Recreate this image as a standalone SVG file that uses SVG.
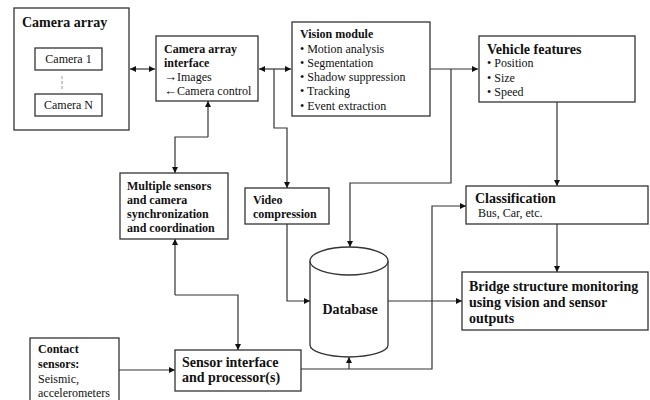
<svg xmlns="http://www.w3.org/2000/svg" width="650" height="400" viewBox="0 0 650 400" font-family="'Liberation Serif', 'Times New Roman', Times, serif">
<defs>
<marker id="ah" viewBox="0 0 10 10" refX="10" refY="5" markerWidth="6" markerHeight="6" markerUnits="userSpaceOnUse" orient="auto-start-reverse">
<path d="M0,0 L10,5 L0,10 z" fill="#111"/>
</marker>
<style>
.box{fill:#fff;stroke:#333;stroke-width:1.3}
.ar{fill:none;stroke:#333;stroke-width:1.2;marker-end:url(#ah)}
.bi{fill:none;stroke:#333;stroke-width:1.2;marker-end:url(#ah);marker-start:url(#ah)}
text{font-family:'Liberation Serif','Times New Roman',Times,serif;fill:#111;font-size:12px}
.b{font-weight:bold}
.t14{font-size:14px}
.arw{font-size:13px;font-weight:bold}
</style>
</defs>
<rect width="650" height="400" fill="#fff"/>

<g id="connectors">
<path class="bi" d="M130,69 H155"/>
<path class="bi" d="M259,69 H291"/>
<path class="ar" d="M430,69 H478"/>
<path class="ar" d="M274,69 V128 H287 V188"/>
<path class="ar" d="M208,137 V101"/>
<path class="ar" d="M208,137 H175 V173"/>
<path class="ar" d="M175,295 V239"/>
<path class="ar" d="M175,295 H238 V350"/>
<path class="ar" d="M451,69 V183 H350 V247"/>
<path class="ar" d="M557,102 V186"/>
<path class="ar" d="M557,224 V272"/>
<path class="ar" d="M287,224 V301 H310"/>
<path class="ar" d="M388,301 H462"/>
<path class="ar" d="M119,370 H175"/>
<path class="ar" d="M301,369 H432 V206 H466"/>
<path class="ar" d="M349,369 V357"/>
</g>

<g id="camera-array">
<rect class="box" x="14" y="8" width="115" height="122"/>
<text class="b t14" x="22" y="27">Camera array</text>
</g>
<g id="camera-1">
<rect class="box" x="35" y="48" width="67" height="22"/>
<text x="68.5" y="63" text-anchor="middle">Camera 1</text>
</g>
<path d="M62,76 V91" stroke="#999" stroke-width="1" stroke-dasharray="3,2" fill="none"/>
<g id="camera-n">
<rect class="box" x="35" y="94" width="67" height="22"/>
<text x="68.5" y="109" text-anchor="middle">Camera N</text>
</g>

<g id="camera-array-interface">
<rect class="box" x="156" y="36" width="102" height="65"/>
<text class="b" x="164" y="53">Camera  array</text>
<text class="b" x="164" y="67">interface</text>
<text x="164" y="81"><tspan class="arw">→</tspan>Images</text>
<text x="164" y="95"><tspan class="arw">←</tspan>Camera control</text>
</g>

<g id="vision-module">
<rect class="box" x="292" y="22" width="138" height="94"/>
<text class="b" x="300" y="38">Vision module</text>
<text x="300" y="53">• Motion analysis</text>
<text x="300" y="67">• Segmentation</text>
<text x="300" y="81">• Shadow suppression</text>
<text x="300" y="95">• Tracking</text>
<text x="300" y="110">• Event extraction</text>
</g>

<g id="vehicle-features">
<rect class="box" x="479" y="36" width="156" height="66"/>
<text class="b t14" x="487" y="54">Vehicle features</text>
<text x="487" y="67">• Position</text>
<text x="487" y="82">• Size</text>
<text x="487" y="96">• Speed</text>
</g>

<g id="multiple-sensors">
<rect class="box" x="120" y="173" width="108" height="66"/>
<text class="b" x="127" y="190">Multiple sensors</text>
<text class="b" x="127" y="204">and camera</text>
<text class="b" x="127" y="218">synchronization</text>
<text class="b" x="127" y="232">and coordination</text>
</g>

<g id="video-compression">
<rect class="box" x="245" y="188" width="84" height="36"/>
<text class="b" x="253" y="204">Video</text>
<text class="b" x="253" y="218">compression</text>
</g>

<g id="database">
<path class="box" d="M310,261 V345 A39,12 0 0 0 388,345 V261"/>
<ellipse class="box" cx="349" cy="261" rx="39" ry="14"/>
<text class="b t14" x="350" y="314" text-anchor="middle">Database</text>
</g>

<g id="classification">
<rect class="box" x="466" y="186" width="182" height="38"/>
<text class="b t14" x="475" y="203">Classification</text>
<text x="478" y="217">Bus, Car, etc.</text>
</g>

<g id="bridge-monitoring">
<rect class="box" x="462" y="272" width="186" height="58"/>
<text class="b t14" x="469" y="291">Bridge structure monitoring</text>
<text class="b t14" x="469" y="307">using vision and sensor</text>
<text class="b t14" x="469" y="323">outputs</text>
</g>

<g id="contact-sensors">
<rect class="box" x="30" y="338" width="89" height="70"/>
<text class="b" x="38" y="353">Contact</text>
<text class="b" x="38" y="368">sensors:</text>
<text x="38" y="383">Seismic,</text>
<text x="38" y="397">accelerometers</text>
</g>

<g id="sensor-interface">
<rect class="box" x="175" y="350" width="126" height="41"/>
<text class="b t14" x="182" y="367">Sensor interface</text>
<text class="b t14" x="182" y="382">and processor(s)</text>
</g>
</svg>
